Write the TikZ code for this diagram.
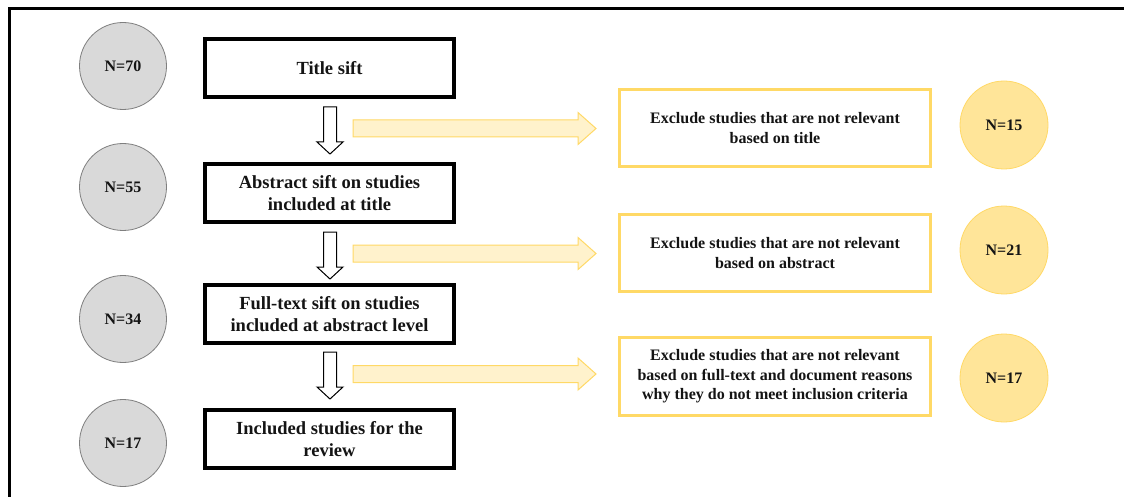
\documentclass[tikz,border=0pt]{standalone}
\usepackage{fontspec}
\setmainfont{Liberation Serif}
\definecolor{ygold}{HTML}{FFD966}
\definecolor{ylight}{HTML}{FFF2CC}
\definecolor{ycirc}{HTML}{FFE599}
\definecolor{gfill}{HTML}{D9D9D9}
\definecolor{gline}{HTML}{7F7F7F}
\definecolor{ink}{HTML}{141414}
\newcommand\blockdown[1]{%
  \draw[fill=white,line width=1pt,line join=miter]
    ({323.5},{#1}) -- ({336.5},{#1}) -- ({336.5},{#1+35}) -- ({343},{#1+35})
    -- ({330},{#1+47}) -- ({317},{#1+35}) -- ({323.5},{#1+35}) -- cycle;}
\newcommand\sidearrow[1]{%
  \draw[draw=ygold,fill=ylight,line width=1pt,line join=miter]
    ({353},{#1-8.5}) -- ({578},{#1-8.5}) -- ({578},{#1-16}) -- ({596},{#1})
    -- ({578},{#1+16}) -- ({578},{#1+8.5}) -- ({353},{#1+8.5}) -- cycle;}
\begin{document}
\begin{tikzpicture}[x=1pt,y=-1pt,
  stagebox/.style={draw=black,line width=4pt,fill=white,minimum width=249pt,
    minimum height=58pt,inner sep=0pt,align=center,text=ink,
    font=\bfseries\fontsize{18.5}{22}\selectfont},
  excludebox/.style={draw=ygold,line width=3pt,fill=white,minimum width=311pt,
    minimum height=77pt,inner sep=0pt,align=center,text=ink,
    font=\bfseries\fontsize{16}{19.5}\selectfont},
  graycount/.style={circle,draw=gline,line width=0.8pt,fill=gfill,
    minimum size=87pt,inner sep=0pt,text=ink,font=\bfseries\fontsize{16}{19}\selectfont},
  yellowcount/.style={circle,draw=ygold,line width=0.8pt,fill=ycirc,
    minimum size=88pt,inner sep=0pt,text=ink,font=\bfseries\fontsize{16}{19}\selectfont}]
\useasboundingbox (0,0) rectangle (1124,497);
\fill[white] (0,0) rectangle (1124,497);
\draw[line width=3pt] (9,497) -- (9,9) -- (1124,9);

% left counts
\node[graycount] (n70) at (123,66) {N=70};
\node[graycount] (n55) at (123,187) {N=55};
\node[graycount] (n34) at (123,319) {N=34};
\node[graycount] (n17) at (123,443) {N=17};

% stages
\node[stagebox] (t1) at (329.5,68) {Title sift};
\node[stagebox] (t2) at (329.5,193) {Abstract sift on studies\\included at title};
\node[stagebox] (t3) at (329.5,314) {Full-text sift on studies\\included at abstract level};
\node[stagebox] (t4) at (329.5,439) {Included studies for the\\review};

% down block arrows
\blockdown{107}
\blockdown{232}
\blockdown{352}

% side arrows
\sidearrow{128.5}
\sidearrow{253.5}
\sidearrow{374}

% exclusion boxes
\node[excludebox] (e1) at (775,128) {Exclude studies that are not relevant\\based on title};
\node[excludebox] (e2) at (775,253) {Exclude studies that are not relevant\\based on abstract};
\node[excludebox,minimum height=78pt] (e3) at (775,376.5) {Exclude studies that are not relevant\\based on full-text and document reasons\\why they do not meet inclusion criteria};

% right counts
\node[yellowcount] (x15) at (1004,125) {N=15};
\node[yellowcount] (x21) at (1004,250) {N=21};
\node[yellowcount] (x17) at (1004,378) {N=17};
\end{tikzpicture}
\end{document}
